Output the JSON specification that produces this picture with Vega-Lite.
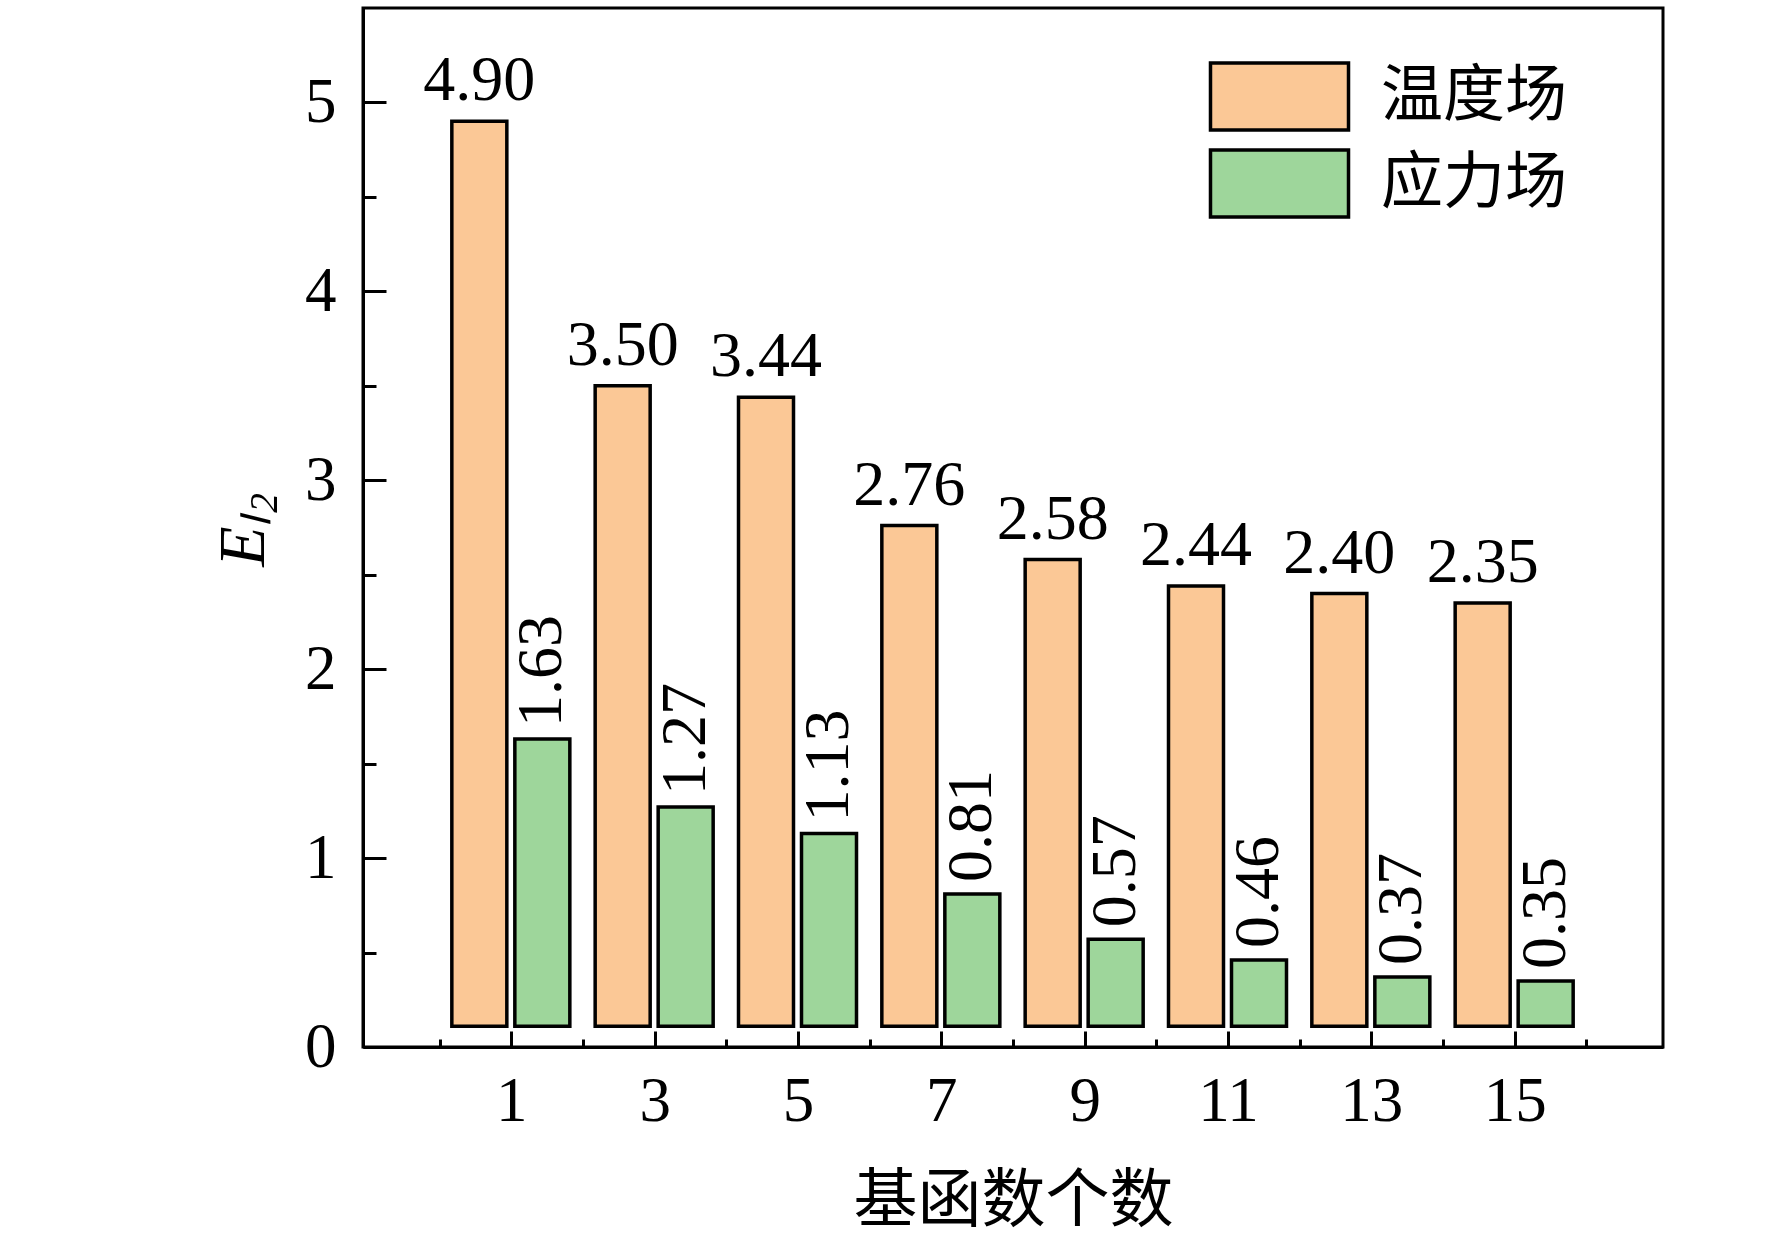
{
  "$schema": "https://vega.github.io/schema/vega-lite/v6.json",
  "description": "E_L2 versus number of basis functions",
  "autosize": "none",
  "padding": {"left": 363, "top": 8, "right": 109, "bottom": 205},
  "width": 1300,
  "height": 1039,
  "background": "white",
  "config": {
    "font": "Liberation Serif",
    "view": {"stroke": "black", "strokeWidth": 3},
    "axis": {
      "domainColor": "black",
      "domainWidth": 3,
      "tickColor": "black",
      "tickWidth": 3,
      "grid": false,
      "labelFont": "Liberation Serif",
      "labelFontSize": 63,
      "labelColor": "black",
      "titleColor": "black"
    },
    "legend": {
      "labelFont": "Liberation Serif, Noto Sans CJK SC",
      "labelFontSize": 62,
      "labelColor": "black",
      "labelLimit": 0
    }
  },
  "data": {
    "values": [
      {"n": 1, "temp": 4.90, "stress": 1.63},
      {"n": 3, "temp": 3.50, "stress": 1.27},
      {"n": 5, "temp": 3.44, "stress": 1.13},
      {"n": 7, "temp": 2.76, "stress": 0.81},
      {"n": 9, "temp": 2.58, "stress": 0.57},
      {"n": 11, "temp": 2.44, "stress": 0.46},
      {"n": 13, "temp": 2.40, "stress": 0.37},
      {"n": 15, "temp": 2.35, "stress": 0.35}
    ]
  },
  "encoding": {
    "x": {
      "field": "n",
      "type": "quantitative",
      "scale": {"domain": [-1, 17], "nice": false, "zero": false},
      "axis": {
        "values": [0, 1, 2, 3, 4, 5, 6, 7, 8, 9, 10, 11, 12, 13, 14, 15, 16],
        "labelExpr": "datum.value % 2 == 1 ? datum.label : ''",
        "tickSize": {"condition": {"test": "datum.value % 2 == 1", "value": -16}, "value": -8},
        "labelPadding": 39,
        "labelBaseline": "top",
        "title": "基函数个数",
        "titleFont": "Noto Sans CJK SC",
        "titleFontSize": 64,
        "titleFontWeight": "normal",
        "titleBaseline": "top",
        "titleY": 122
      }
    }
  },
  "layer": [
    {
      "mark": {"type": "bar", "width": 55, "xOffset": -32, "stroke": "black", "strokeWidth": 3.5},
      "encoding": {
        "y": {
          "field": "temp",
          "type": "quantitative",
          "scale": {"domain": [0, 5.5], "nice": false},
          "axis": {
            "values": [0, 0.5, 1, 1.5, 2, 2.5, 3, 3.5, 4, 4.5, 5],
            "labelExpr": "datum.value % 1 == 0 ? format(datum.value, 'd') : ''",
            "tickSize": {"condition": {"test": "datum.value % 1 == 0", "value": -23}, "value": -13},
            "labelPadding": 50,
            "title": "Eₗ₂",
            "titleFont": "Liberation Serif",
            "titleFontStyle": "italic",
            "titleFontWeight": "normal",
            "titleFontSize": 66,
            "titleX": -120,
            "titleY": 521,
            "titleBaseline": "middle"
          }
        },
        "y2": {"datum": 0.11},
        "color": {
          "datum": "温度场",
          "type": "nominal",
          "scale": {"domain": ["温度场", "应力场"], "range": ["#FBC896", "#9ED69B"]},
          "legend": {
            "title": null,
            "orient": "none",
            "legendX": 881,
            "legendY": 53,
            "padding": 0,
            "symbolType": "M-2.06,-1H2.06V1H-2.06Z",
            "symbolSize": 4489,
            "symbolStrokeColor": "black",
            "symbolStrokeWidth": 3.5,
            "symbolOpacity": 1,
            "labelOffset": 66,
            "rowPadding": 6
          }
        }
      }
    },
    {
      "mark": {"type": "bar", "width": 55, "xOffset": 31, "stroke": "black", "strokeWidth": 3.5},
      "encoding": {
        "y": {"field": "stress", "type": "quantitative"},
        "y2": {"datum": 0.11},
        "color": {"datum": "应力场", "type": "nominal"}
      }
    },
    {
      "mark": {"type": "text", "xOffset": -32, "yOffset": -8, "baseline": "bottom", "align": "center", "fontSize": 64, "color": "black"},
      "encoding": {
        "y": {"field": "temp", "type": "quantitative"},
        "text": {"field": "temp", "type": "quantitative", "format": ".2f"}
      }
    },
    {
      "mark": {"type": "text", "angle": 270, "xOffset": 31, "yOffset": -12, "baseline": "middle", "align": "left", "fontSize": 64, "color": "black"},
      "encoding": {
        "y": {"field": "stress", "type": "quantitative"},
        "text": {"field": "stress", "type": "quantitative", "format": ".2f"}
      }
    }
  ]
}
